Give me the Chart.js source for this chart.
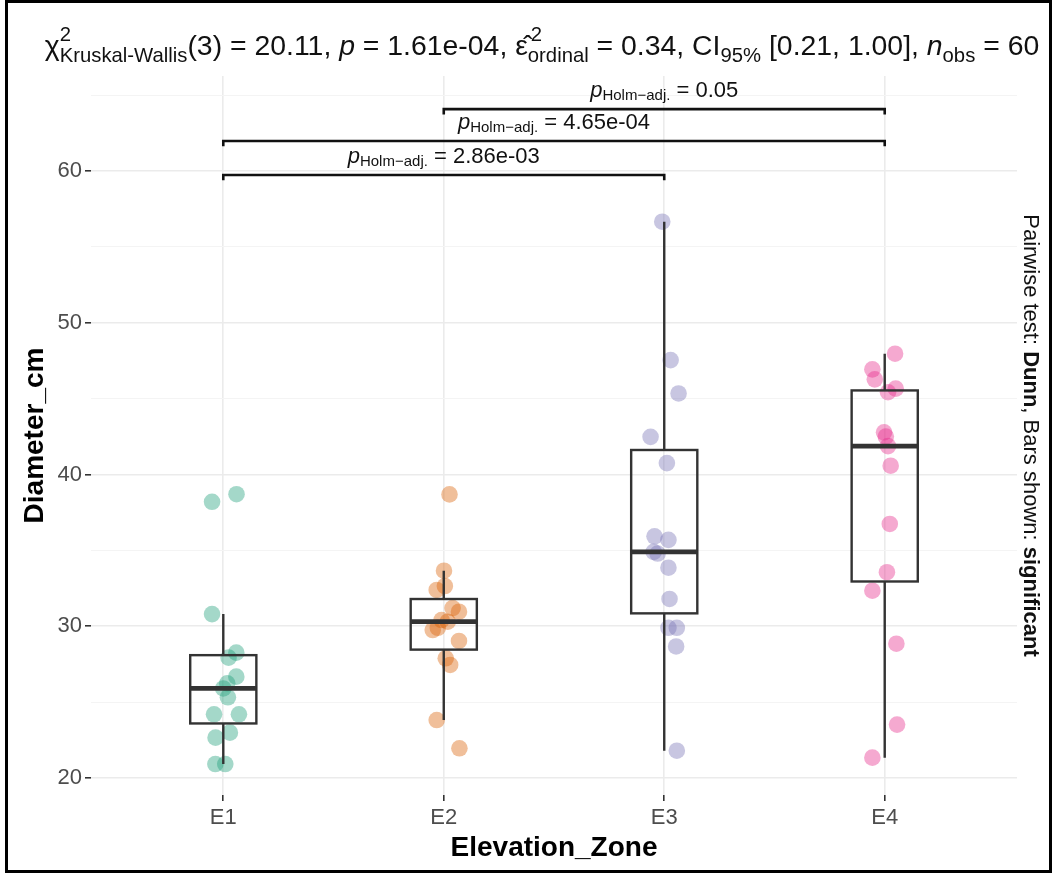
<!DOCTYPE html>
<html>
<head>
<meta charset="utf-8">
<script src="https://cdn.jsdelivr.net/npm/chart.js@4.4.1/dist/chart.umd.min.js"></script>
<style>
  html, body { margin: 0; padding: 0; background: #fff; }
  #wrap { position: relative; width: 1052px; height: 873px; }
  canvas { position: absolute; left: 0; top: 0; }
  #frame { position: absolute; left: 5px; top: 0; width: 1041px; height: 867px; border: 3px solid #000; pointer-events: none; }
</style>
</head>
<body>
<div id="wrap">
  <canvas id="chart" width="1052" height="873"></canvas>
  <div id="frame"></div>
</div>
<script>
// values
const zones = ["E1", "E2", "E3", "E4"];
const zoneColors = ["#1b9e77", "#d95f02", "#7570b3", "#e7298a"];

const e1Diameter = [38.2, 38.7, 30.8, 28.26, 27.93, 26.68, 26.24, 25.9, 25.32, 24.2, 24.2, 22.66, 22.99, 20.92, 20.92];
const e1Jitter = [-0.051, 0.06, -0.051, 0.059, 0.024, 0.059, 0.018, 0, 0.021, -0.042, 0.071, -0.035, 0.03, -0.036, 0.009];
const e2Diameter = [38.69, 33.66, 32.65, 32.39, 31.2, 30.96, 30.41, 30.3, 29.9, 29.75, 29.03, 27.89, 27.45, 23.82, 21.96];
const e2Jitter = [0.026, 0.001, 0.005, -0.032, 0.04, 0.069, -0.01, 0.018, -0.027, -0.05, 0.069, 0.009, 0.029, -0.032, 0.071];
const e3Diameter = [56.66, 47.54, 45.34, 42.48, 40.75, 35.93, 35.69, 34.9, 34.79, 33.86, 31.8, 29.9, 29.9, 28.67, 21.8];
const e3Jitter = [-0.009, 0.029, 0.065, -0.062, 0.012, -0.044, 0.019, -0.048, -0.03, 0.019, 0.024, 0.019, 0.057, 0.054, 0.057];
const e4Diameter = [47.96, 46.93, 46.27, 45.66, 45.42, 42.78, 42.5, 41.87, 40.58, 36.74, 33.56, 32.34, 28.85, 23.52, 21.34];
const e4Jitter = [0.047, -0.056, -0.045, 0.05, 0.015, -0.003, 0.005, 0.015, 0.027, 0.023, 0.01, -0.056, 0.053, 0.056, -0.056];

const yTicks = [20, 25, 30, 35, 40, 45, 50, 55, 60, 65];

// pairwise comparisons shown as brackets
const compareFrom = [1, 1, 2];
const compareTo = [3, 4, 4];
const bracketLevels = [59.74, 61.98, 64.08];
const pHolm = ["2.86e-03", "4.65e-04", "0.05"];

const allDiameter = [e1Diameter, e2Diameter, e3Diameter, e4Diameter];
const allJitter = [e1Jitter, e2Jitter, e3Jitter, e4Jitter];

const FONT = "'Liberation Sans', Arial, Helvetica, sans-serif";
Chart.defaults.font.family = FONT;

function hexAlpha(hex, a) {
  const n = parseInt(hex.slice(1), 16);
  return `rgba(${(n >> 16) & 255}, ${(n >> 8) & 255}, ${n & 255}, ${a})`;
}

function quantile(sorted, p) {
  const h = (sorted.length - 1) * p;
  const lo = Math.floor(h);
  const hi = Math.min(lo + 1, sorted.length - 1);
  return sorted[lo] + (h - lo) * (sorted[hi] - sorted[lo]);
}

function boxStats(vals) {
  const s = [...vals].sort((a, b) => a - b);
  const q1 = quantile(s, 0.25), med = quantile(s, 0.5), q3 = quantile(s, 0.75);
  const iqr = q3 - q1;
  const lo = s.find(v => v >= q1 - 1.5 * iqr);
  const hi = [...s].reverse().find(v => v <= q3 + 1.5 * iqr);
  return { q1, med, q3, lo, hi };
}

// rich text (sub/superscripts) on the canvas
function fontStr(p) {
  return `${p.i ? "italic " : ""}${p.b ? "bold " : ""}${p.s}px ${FONT}`;
}
function partWidth(ctx, p) {
  const items = p.stack || [p];
  return Math.max(...items.map(q => { ctx.font = fontStr(q); return ctx.measureText(q.t).width + (q.dx || 0); }));
}
function drawRich(ctx, parts, cx, y) {
  const ws = parts.map(p => partWidth(ctx, p));
  let x = cx - ws.reduce((a, b) => a + b, 0) / 2;
  ctx.textAlign = "left";
  ctx.textBaseline = "alphabetic";
  parts.forEach((p, k) => {
    (p.stack || [p]).forEach(q => {
      ctx.font = fontStr(q);
      ctx.fillText(q.t, x + (q.dx || 0), y + (q.dy || 0));
    });
    x += ws[k];
  });
}

const F = 28.4, S = 20.3;
const titleParts = [
  { t: "χ", s: F },
  { stack: [{ t: "2", s: S, dy: -14 }, { t: "Kruskal-Wallis", s: S, dy: 7 }] },
  { t: "(3) = 20.11, ", s: F },
  { t: "p", s: F, i: true },
  { t: " = 1.61e-04, ", s: F },
  { t: "ε̂", s: F },
  { stack: [{ t: "2", s: S, dy: -14, dx: 3 }, { t: "ordinal", s: S, dy: 7 }] },
  { t: " = 0.34, CI", s: F },
  { t: "95%", s: S, dy: 7 },
  { t: " [0.21, 1.00], ", s: F },
  { t: "n", s: F, i: true },
  { t: "obs", s: S, dy: 7 },
  { t: " = 60", s: F }
];

const captionParts = [
  { t: "Pairwise test: ", s: 22 },
  { t: "Dunn", s: 22, b: true },
  { t: ", Bars shown: ", s: 22 },
  { t: "significant", s: 22, b: true }
];

const boxPlugin = {
  id: "boxes",
  afterDatasetsDraw(chart) {
    const { ctx, scales: { x, y } } = chart;
    ctx.save();
    ctx.strokeStyle = "#333333";
    allDiameter.forEach((vals, i) => {
      const st = boxStats(vals);
      const xc = x.getPixelForValue(i + 1);
      const xl = x.getPixelForValue(i + 1 - 0.15);
      const xr = x.getPixelForValue(i + 1 + 0.15);
      const yq1 = y.getPixelForValue(st.q1), yq3 = y.getPixelForValue(st.q3);
      ctx.lineWidth = 2.4;
      ctx.beginPath();
      ctx.moveTo(xc, yq3); ctx.lineTo(xc, y.getPixelForValue(st.hi));
      ctx.moveTo(xc, yq1); ctx.lineTo(xc, y.getPixelForValue(st.lo));
      ctx.stroke();
      ctx.strokeRect(xl, yq3, xr - xl, yq1 - yq3);
      ctx.lineWidth = 4.8;
      const ym = y.getPixelForValue(st.med);
      ctx.beginPath(); ctx.moveTo(xl, ym); ctx.lineTo(xr, ym); ctx.stroke();
    });
    ctx.restore();
  }
};

const annotationPlugin = {
  id: "annotations",
  afterDraw(chart) {
    const { ctx, scales: { x, y } } = chart;
    ctx.save();
    // significance brackets
    ctx.strokeStyle = "#111";
    ctx.fillStyle = "#111";
    ctx.lineWidth = 2.6;
    compareFrom.forEach((a, k) => {
      const x1 = x.getPixelForValue(a), x2 = x.getPixelForValue(compareTo[k]);
      const yb = y.getPixelForValue(bracketLevels[k]);
      const yt = y.getPixelForValue(bracketLevels[k] - 0.35);
      ctx.beginPath();
      ctx.moveTo(x1, yt); ctx.lineTo(x1, yb); ctx.lineTo(x2, yb); ctx.lineTo(x2, yt);
      ctx.stroke();
      drawRich(ctx, [
        { t: "p", s: 22, i: true },
        { t: "Holm−adj.", s: 15, dy: 3 },
        { t: " = " + pHolm[k], s: 22 }
      ], (x1 + x2) / 2, yb - 12);
    });
    // subtitle
    ctx.fillStyle = "#111";
    drawRich(ctx, titleParts, 542, 55);
    // caption on the right
    ctx.translate(1032, (chart.chartArea.top + chart.chartArea.bottom) / 2);
    ctx.rotate(Math.PI / 2);
    drawRich(ctx, captionParts, 0, 8);
    ctx.restore();
  }
};

new Chart(document.getElementById("chart"), {
  type: "scatter",
  data: {
    datasets: zones.map((z, i) => ({
      label: z,
      data: allDiameter[i].map((v, j) => ({ x: i + 1 + allJitter[i][j], y: v })),
      backgroundColor: hexAlpha(zoneColors[i], 0.4),
      borderWidth: 0,
      pointRadius: 8.3,
      pointHoverRadius: 8.3
    }))
  },
  options: {
    responsive: false,
    animation: false,
    events: [],
    layout: { padding: { top: 76, right: 35, left: 0, bottom: 0 } },
    plugins: { legend: { display: false }, tooltip: { enabled: false } },
    scales: {
      x: {
        type: "linear",
        min: 0.4,
        max: 4.6,
        afterBuildTicks: s => { s.ticks = zones.map((z, i) => ({ value: i + 1 })); },
        afterFit: s => { s.height = 78; },
        ticks: { callback: v => zones[v - 1], color: "#4d4d4d", font: { size: 22 }, padding: 4 },
        grid: { color: "#ebebeb", lineWidth: 1.6, tickColor: "#333", tickLength: 6, tickWidth: 1.6 },
        border: { display: false },
        title: { display: true, text: "Elevation_Zone", color: "#000", font: { size: 28, weight: "bold" }, padding: { top: 0, bottom: 8 } }
      },
      y: {
        min: 18.88,
        max: 66.26,
        afterBuildTicks: s => { s.ticks = yTicks.map(v => ({ value: v })); },
        afterFit: s => { s.width = 91; },
        ticks: { callback: v => (v % 10 === 0 ? String(v) : ""), color: "#4d4d4d", font: { size: 22 }, padding: 3 },
        grid: {
          color: c => (c.tick && c.tick.value % 10 === 0 ? "#ebebeb" : "#f4f4f4"),
          lineWidth: c => (c.tick && c.tick.value % 10 === 0 ? 1.6 : 1),
          tickColor: c => (c.tick && c.tick.value % 10 === 0 ? "#333" : "rgba(0,0,0,0)"),
          tickLength: 6,
          tickWidth: 1.6
        },
        border: { display: false },
        title: { display: true, text: "Diameter_cm", color: "#000", font: { size: 28, weight: "bold" }, padding: { top: 18, bottom: 0 } }
      }
    }
  },
  plugins: [boxPlugin, annotationPlugin]
});
</script>
</body>
</html>
